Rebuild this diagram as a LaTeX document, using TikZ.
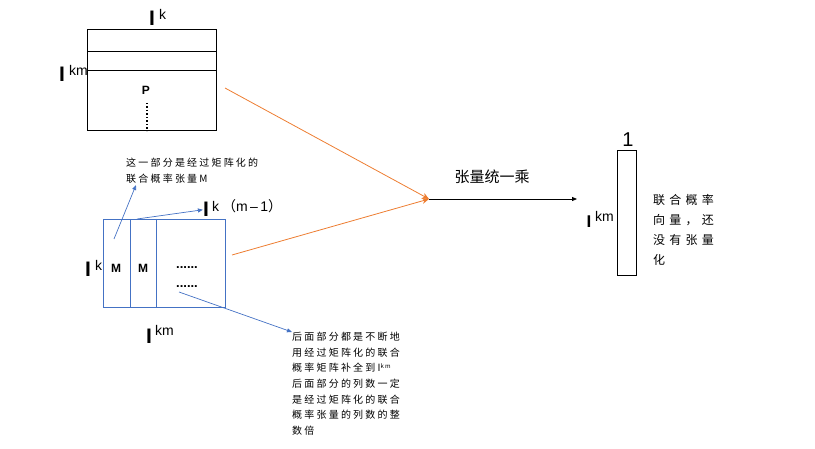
\documentclass[tikz,border=0pt]{standalone}
\usepackage{fontspec}
\setmainfont{Liberation Sans}
\newfontfamily\cjk{Noto Sans CJK SC}
\newfontfamily\cjknote[LetterSpace=22]{Noto Sans CJK SC}
\newfontfamily\cjkside[LetterSpace=35]{Noto Sans CJK SC}
\usetikzlibrary{arrows.meta}

\definecolor{orangeline}{RGB}{237,125,49}
\definecolor{blueline}{RGB}{68,114,196}

\tikzset{
  dimbar/.style={inner sep=0pt,anchor=base,font=\bfseries\fontsize{21}{21}\selectfont},
  dimtxt/.style={inner sep=0pt,anchor=base west,font=\fontsize{14}{14}\selectfont},
  cell/.style={inner sep=0pt,anchor=base,font=\bfseries\fontsize{12}{12}\selectfont},
  dotrow/.style={inner sep=0pt,anchor=base,font=\bfseries\fontsize{13}{13}\selectfont},
  note/.style={inner sep=0pt,anchor=north west,align=left,font=\cjknote\fontsize{10}{15.6}\selectfont},
  orangearrow/.style={draw=orangeline,line width=0.8pt,-{Stealth[length=7pt,width=6pt]}},
  bluearrow/.style={draw=blueline,line width=0.7pt,-{Triangle[length=5pt,width=4pt]}},
  blackarrow/.style={draw=black,line width=0.8pt,-{Triangle[length=5pt,width=4pt]}}
}

\begin{document}
\begin{tikzpicture}[x=1pt,y=-1pt]

   \useasboundingbox (0,0) rectangle (815,449);

   % matrix P (top)
   \node[draw,line width=0.8pt,minimum width=129pt,minimum height=101pt,inner sep=0pt] (Pbox) at (151.5,79.5) {};
   \draw[line width=0.8pt] (87,51) -- (216,51);
   \draw[line width=0.8pt] (87,70) -- (216,70);
   \node[cell] (P) at (146,95) {P};
   \draw[line width=1.3pt,dash pattern=on 1.3pt off 2.2pt] (147,103) -- (147,131);
   \node[dimbar] (Itop) at (152,26) {I};
   \node[dimtxt] (ktop) at (159,20) {k};
   \node[dimbar] (Ileft) at (62,82) {I};
   \node[dimtxt] (kmleft) at (69,76) {km};

   % matrix of M blocks (bottom)
   \node[draw=blueline,line width=0.8pt,minimum width=122pt,minimum height=88pt,inner sep=0pt] (Mbox) at (164,263) {};
   \draw[blueline,line width=0.8pt] (130,219) -- (130,307);
   \draw[blueline,line width=0.8pt] (156,219) -- (156,307);
   \node[cell] (M1) at (116,273) {M};
   \node[cell] (M2) at (143,273) {M};
   \node[dotrow] (dots1) at (187,269) {......};
   \node[dotrow] (dots2) at (187,288) {......};
   \node[dimbar] (Ik) at (88,277) {I};
   \node[dimtxt] (kleft) at (95,271) {k};
   \node[dimbar] (Ikm) at (206,217) {I};
   \node[dimtxt] (kmtop) at (212,212) {k\hspace{3pt}{\cjk（}m\,–\,1{\cjk）}};
   \node[dimbar] (Ibot) at (149,344) {I};
   \node[dimtxt] (kmbot) at (155,336) {km};

   % result vector
   \node[draw,line width=0.8pt,minimum width=19pt,minimum height=125pt,inner sep=0pt] (vec) at (626.5,212.5) {};
   \node[inner sep=0pt,anchor=base,font=\fontsize{20}{20}\selectfont] (one) at (628,147) {1};
   \node[dimbar,font=\bfseries\fontsize{17}{17}\selectfont] (Ivec) at (589,228) {I};
   \node[dimtxt] (kmvec) at (595,222) {km};

   % notes
   \node[note] (noteM) at (126,158) {这一部分是经过矩阵化的\\联合概率张量M};
   \node[note] (noterest) at (292,332) {后面部分都是不断地\\用经过矩阵化的联合\\概率矩阵补全到I\raisebox{0.6ex}{\fontsize{6}{6}\selectfont km}\\后面部分的列数一定\\是经过矩阵化的联合\\概率张量的列数的整\\数倍};
   \node[inner sep=0pt,anchor=north west,align=left,font=\cjkside\fontsize{12}{20.2}\selectfont] (notevec) at (653,194) {联合概率\\向量，还\\没有张量\\化};
   \node[inner sep=0pt,font=\cjk\fontsize{15}{15}\selectfont] (mul) at (492,177) {张量统一乘};

   % connectors
   \coordinate (Pout) at (225,88);
   \coordinate (Mout) at (232,255);
   \coordinate (join) at (429,199);
   \coordinate (res) at (577,199);
   \draw[orangearrow] (Pout) -- (join);
   \draw[orangearrow] (Mout) -- (join);
   \draw[blackarrow] (join) -- (res);

   \coordinate (Min) at (114,239);
   \coordinate (Mnote) at (136,185);
   \coordinate (Mtop) at (137,219);
   \coordinate (dotsin) at (179,292);
   \draw[bluearrow] (Min) -- (Mnote);
   \draw[bluearrow] (Mtop) -- (Ikm.west);
   \draw[bluearrow] (dotsin) -- (noterest.north west);

\end{tikzpicture}
\end{document}
